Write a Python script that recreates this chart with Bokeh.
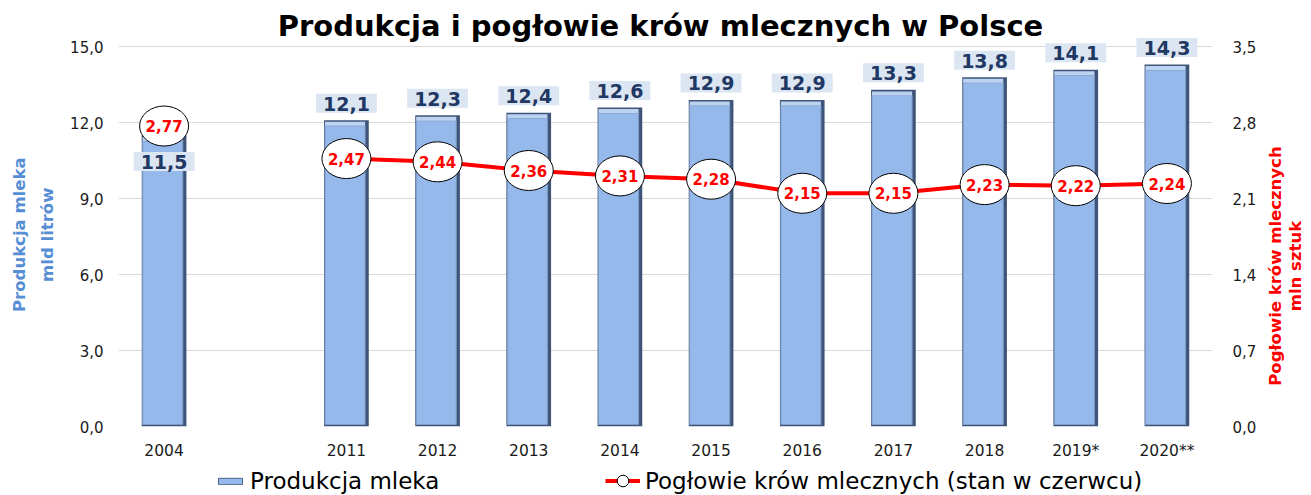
import math
from bokeh.plotting import figure
from bokeh.layouts import column, row
from bokeh.models import (ColumnDataSource, FactorRange, Range1d, LinearAxis, FixedTicker,
                          CustomJSTickFormatter, Legend, LegendItem, Label)
from bokeh.transform import dodge
from bokeh.core.properties import value
from bokeh.embed import file_html
from bokeh.resources import INLINE

# ---------------- data ----------------
slots = ["2004", " ", "2011", "2012", "2013", "2014", "2015", "2016", "2017", "2018", "2019*", "2020**"]
years = ["2004", "2011", "2012", "2013", "2014", "2015", "2016", "2017", "2018", "2019*", "2020**"]
milk = [11.5, 12.1, 12.3, 12.4, 12.6, 12.9, 12.9, 13.3, 13.8, 14.1, 14.3]      # mld litrów
cows = [2.77, 2.47, 2.44, 2.36, 2.31, 2.28, 2.15, 2.15, 2.23, 2.22, 2.24]      # mln sztuk
left_ticks = [0, 3, 6, 9, 12, 15]
right_ticks = [0, 0.7, 1.4, 2.1, 2.8, 3.5]

title = "Produkcja i pogłowie krów mlecznych w Polsce"
left_label = "Produkcja mleka\nmld litrów"
right_label = "Pogłowie krów mlecznych\nmln sztuk"
milk_name = "Produkcja mleka"
cows_name = "Pogłowie krów mlecznych (stan w czerwcu)"

FONT = "DejaVu Sans"
BAR_FILL = "#95B9EB"
BAR_DARK = "#3E5579"
RED = "#FF0000"
NAN = float("nan")

# ---------------- geometry of the page ----------------
H_MAIN = 462          # height of the chart row
LEFT_W = 60           # strip holding the left axis title
RIGHT_W = 50          # strip holding the right axis title
FRAME_L, FRAME_R = 58, 49      # borders of the main figure
FRAME_B = 30
PLOT_H = 385          # pixel height of the 0..15 span
FRAME_H = H_MAIN - FRAME_B      # frame runs up to the top of the page
headroom = FRAME_H / PLOT_H

def pl(v, d):
    return f"{v:.{d}f}".replace(".", ",")

src = ColumnDataSource(dict(
    x=years,
    milk=milk,
    inner_top=[m - 0.22 for m in milk],
    bevel_top=[m - 0.06 for m in milk],
    lbl=[pl(m, 1) for m in milk],
    lbl_off=[26 if i == 0 else -17 for i in range(len(milk))],
    cows=cows,
    cow_lbl=[pl(c, 2) for c in cows],
))
line_src = ColumnDataSource(dict(x=years[1:], y=cows[1:]))

W_MAIN = 1311 - LEFT_W - RIGHT_W
p = figure(x_range=FactorRange(*slots, range_padding=0),
           y_range=Range1d(0, left_ticks[-1] * headroom),
           width=W_MAIN, height=H_MAIN, output_backend="svg", toolbar_location=None,
           min_border_left=FRAME_L, min_border_right=FRAME_R, min_border_top=0,
           min_border_bottom=FRAME_B)
p.extra_y_ranges = {"right": Range1d(0, right_ticks[-1] * headroom)}
p.outline_line_color = None
p.background_fill_color = "white"
p.border_fill_color = "white"

# grids
p.xgrid.grid_line_color = None
p.ygrid.grid_line_color = "#D9D9D9"
p.ygrid.grid_line_width = 1
p.ygrid.ticker = FixedTicker(ticks=left_ticks)

fmt = "return tick.toFixed(1).replace('.', ',');"

def style_axis(ax, size, standoff):
    ax.major_label_text_font = FONT
    ax.major_label_text_font_size = size
    ax.major_label_text_color = "#1a1a1a"
    ax.major_label_standoff = standoff
    ax.axis_line_color = None
    ax.major_tick_line_color = None
    ax.minor_tick_line_color = None
    ax.major_tick_out = 0
    ax.major_tick_in = 0

# left axis
la = p.left[0]
la.ticker = FixedTicker(ticks=left_ticks)
la.formatter = CustomJSTickFormatter(code=fmt)
style_axis(la, "15px", 15)

# right axis
ra = LinearAxis(y_range_name="right", ticker=FixedTicker(ticks=right_ticks),
                formatter=CustomJSTickFormatter(code=fmt))
style_axis(ra, "15px", 20)
p.add_layout(ra, "right")

# x axis
xa = p.below[0]
style_axis(xa, "15.5px", 15)

# bars (layered for a bevelled look)
p.vbar(x="x", top="milk", width=0.49, source=src, fill_color=BAR_DARK, line_color=None)
p.vbar(x=dodge("x", -0.015, range=p.x_range), top="inner_top", bottom=0.08, width=0.44,
       source=src, fill_color=BAR_FILL, line_color="#7D9AC4", line_width=1)
p.vbar(x=dodge("x", -0.015, range=p.x_range), top="bevel_top", bottom="inner_top", width=0.44,
       source=src, fill_color="#BCD2F1", line_color=None)

# cows line with ellipse markers
p.line(x="x", y="y", source=line_src, y_range_name="right", line_color=RED, line_width=4)
p.ellipse(x="x", y="cows", width=49, height=40, width_units="screen", height_units="screen",
          source=src, y_range_name="right", fill_color="white", line_color="black", line_width=1)
p.text(x="x", y="cows", text="cow_lbl", source=src, y_range_name="right",
       text_font=value(FONT), text_font_size="15px", text_font_style="bold",
       text_color=RED, text_align="center", text_baseline="middle")

# milk value labels
p.text(x="x", y="milk", text="lbl", y_offset="lbl_off", source=src,
       text_font=value(FONT), text_font_size="19px", text_font_style="bold",
       text_color="#1F3864", text_align="center", text_baseline="middle",
       background_fill_color="#DCE6F2",
       padding=dict(left=7, right=7, top=3, bottom=2))

# title (inside the tall frame, above the 15,0 line)
frame_w = W_MAIN - FRAME_L - FRAME_R
p.add_layout(Label(x=frame_w / 2 - 5, y=FRAME_H - 31, x_units="screen", y_units="screen",
                   text=title, text_font=FONT, text_font_size="29px", text_font_style="bold",
                   text_color="black", text_align="center", text_baseline="middle"))

def strip(w, h):
    f = figure(width=w, height=h, x_range=Range1d(0, w), y_range=Range1d(0, h),
               output_backend="svg", toolbar_location=None, min_border=0,
               x_axis_location=None, y_axis_location=None)
    f.outline_line_color = None
    f.xgrid.visible = False
    f.ygrid.visible = False
    return f

# ---- left axis title ----
lp = strip(LEFT_W, H_MAIN)
lp.add_layout(Label(x=33, y=H_MAIN - 254, text=left_label, angle=90, angle_units="deg",
                    text_font=FONT, text_font_size="16.5px", text_font_style="bold",
                    text_color="#558ED5", text_align="center", text_baseline="middle",
                    text_line_height=1.45))

# ---- right axis title ----
rp = strip(RIGHT_W, H_MAIN)
rp.add_layout(Label(x=24, y=H_MAIN - 288, text=right_label, angle=90, angle_units="deg",
                    text_font=FONT, text_font_size="16.5px", text_font_style="bold",
                    text_color=RED, text_align="center", text_baseline="middle",
                    text_line_height=1.1))

# ---- legend strip ----
lg = figure(width=1311, height=33, x_range=Range1d(0, 1), y_range=Range1d(0, 1),
            output_backend="svg", toolbar_location=None, min_border=0,
            x_axis_location=None, y_axis_location=None)
lg.outline_line_color = None
lg.xgrid.visible = False
lg.ygrid.visible = False
r_bar = lg.vbar(x=[NAN], top=[NAN], width=0.5, fill_color=BAR_FILL, line_color="#4C6489", line_width=1)
r_line = lg.line(x=[NAN], y=[NAN], line_color=RED, line_width=4)
r_dot = lg.scatter(x=[NAN], y=[NAN], marker="circle", size=12, fill_color="white", line_color="black")

leg_style = dict(orientation="horizontal", label_standoff=5, padding=0, margin=0,
                 border_line_color=None, background_fill_alpha=0,
                 label_text_font=FONT, label_text_font_size="23px", label_text_color="black")
lg.add_layout(Legend(items=[LegendItem(label=milk_name, renderers=[r_bar])],
                     location=(215, 1), glyph_width=30, glyph_height=8, **leg_style), "center")
lg.add_layout(Legend(items=[LegendItem(label=cows_name, renderers=[r_line, r_dot])],
                     location=(605, 0), glyph_width=35, glyph_height=29, **leg_style), "center")

layout = column(row(lp, p, rp, spacing=0), lg, spacing=0)
open("out.html", "w").write(file_html(layout, INLINE))
